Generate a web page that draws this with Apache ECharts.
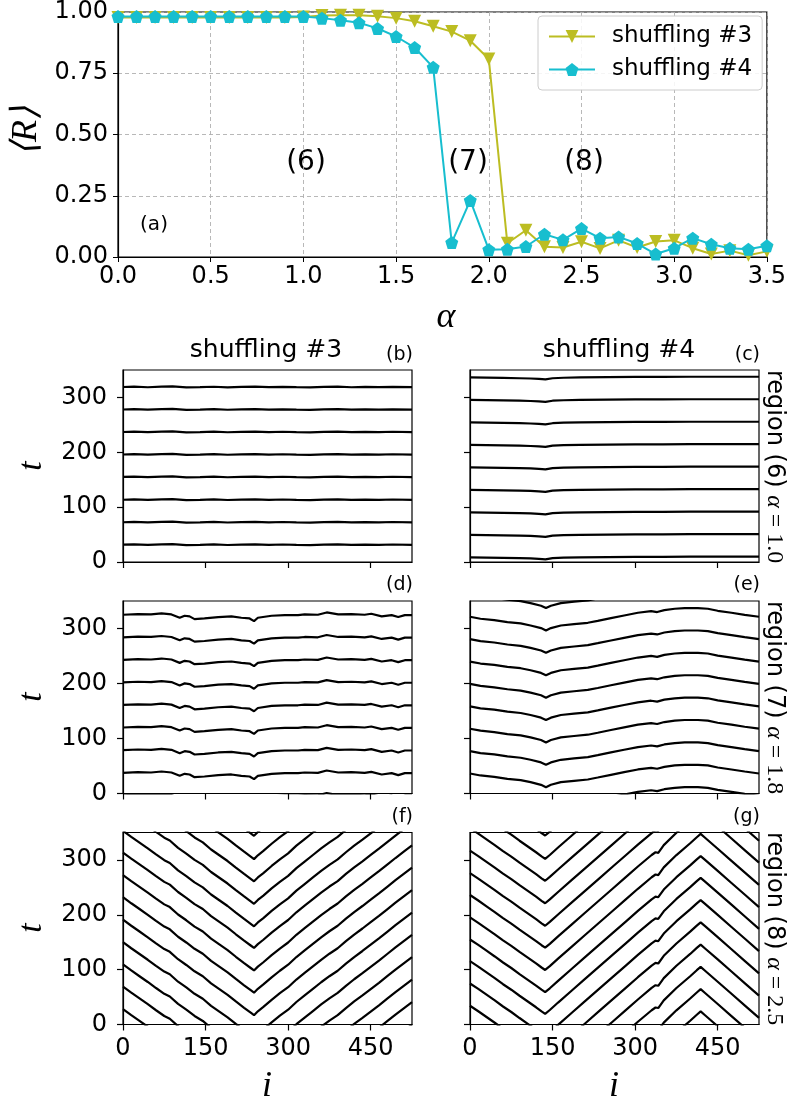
<!DOCTYPE html>
<html>
<head>
<meta charset="utf-8">
<script src="https://cdn.jsdelivr.net/npm/echarts@6/dist/echarts.min.js"></script>
<style>
html,body{margin:0;padding:0;background:#fff;}
#chart{width:789px;height:1104px;}
</style>
</head>
<body>
<div id="chart"></div>
<script>
// ---------- Panel (a): <R> vs alpha ----------
const alphas = [0.0,0.1,0.2,0.3,0.4,0.5,0.6,0.7,0.8,0.9,1.0,1.1,1.2,1.3,1.4,1.5,1.6,1.7,1.8,1.9,2.0,2.1,2.2,2.3,2.4,2.5,2.6,2.7,2.8,2.9,3.0,3.1,3.2,3.3,3.4,3.5];
const shuffling3 = [0.978,0.978,0.978,0.978,0.978,0.978,0.978,0.978,0.978,0.978,0.980,0.986,0.987,0.987,0.983,0.975,0.962,0.942,0.92,0.883,0.808,0.056,0.109,0.042,0.039,0.062,0.035,0.068,0.039,0.063,0.068,0.036,0.012,0.026,0.007,0.023];
const shuffling4 = [0.982,0.982,0.982,0.982,0.982,0.982,0.982,0.982,0.982,0.982,0.982,0.975,0.966,0.956,0.933,0.900,0.855,0.774,0.059,0.231,0.030,0.032,0.043,0.093,0.070,0.116,0.077,0.082,0.055,0.012,0.036,0.077,0.052,0.036,0.032,0.046];
const alphaTicks = [0.0,0.5,1.0,1.5,2.0,2.5,3.0,3.5];
const rTicks = [0.00,0.25,0.50,0.75,1.00];

// ---------- Space-time panels: tick labels ----------
const iTicks = [0,150,300,450];
const tTicks = [0,100,200,300];

// (b) shuffling #3, alpha=1.0 : profile + line baselines
const iB = [0,20,45,70,90,115,140,165,190,215,240,265,290,315,340,365,390,415,440,465,490,525];
const profB = [0,0.6,-0.4,0.8,1.0,-0.6,-0.2,0.5,-0.5,0.3,0.6,-0.3,0.4,-0.2,-0.6,0.3,0.8,-0.4,0.2,-0.3,0.4,-0.2];
const baseB = [31.5,72.5,113.5,155,196,237,278,319];

// (c) shuffling #4, alpha=1.0
const iC = [0,30,60,90,110,125,137,150,170,200,250,300,350,400,450,500,525];
const profC = [0,-0.5,-1,-1.5,-2,-2.8,-3.6,-1.5,-0.6,0,0.5,0.8,1,1.2,1.2,1.2,1.2];
const baseC = [8.5,49.5,90.5,131.5,172.5,213.5,254.5,295.5,336.5];

// (d) shuffling #3, alpha=1.8
const iD = [0,27,51,70,88,103,112,121,130,148,173,197,215,230,238,245,270,294,318,330,354,370,391,415,439,451,470,488,500,512,525];
const profD = [0,1.2,0.6,2.4,0.6,-5.5,-1.8,-3,-7.9,-6.7,-4.2,-3,-5.5,-6.7,-11.5,-5.5,-1.8,-0.6,-0.6,0.6,0,4.2,0.6,1.2,0,1.8,-3,-0.6,-4.2,-0.6,-0.6];
const baseD = [-3.4,37.6,78.8,120,161,202,243,284,325];

// (e) shuffling #4, alpha=1.8
const iE = [0,19,44,68,92,110,129,138,147,165,189,214,232,256,280,305,329,340,353,372,390,414,432,450,475,499,525];
const profE = [0,-3.6,-6.1,-9.7,-12.1,-15.8,-20.6,-24.9,-20.6,-15.8,-13.3,-10.9,-7.3,-2.4,2.4,7.3,10.2,8.6,12.1,14.6,15.8,15.8,14.6,10.9,7.3,3.6,0];
const baseE = [-4.3,36.4,77.1,117.8,158.5,199.2,239.9,280.6,321.3,362];

// (f) shuffling #3, alpha=2.5 (baselines = t of the V vertex)
const iF = [0,15,30,45,60,75,85,100,115,130,145,160,175,190,205,220,232,238,245,255,270,285,300,315,330,345,360,375,390,405,420,435,450,465,480,495,510,525];
const profF = [174,163,152.5,142,131,120.5,115.5,102,91.5,80,71,58,47.5,37,25,13.5,4.5,0,7,15,28,40,51,65,77,89,101,112,122,135,147,158,169.5,181,193,205,216.5,228];
const baseF = [-228,-187,-146,-105,-64.5,-24,17,58,98.5,139.5,179,220,261,301.5,344];

// (g) shuffling #4, alpha=2.5
const iG = [0,15,30,45,60,75,90,105,120,130,136.5,145,160,185,209,235,260,283,305,330,337,342,352,375,400,412,419,427,450,475,500,525];
const profG = [96,86,75.5,65,54,44,33,22.5,12,4.5,0,7,20.6,42.6,63.7,86.5,108.4,128.6,148,169,174,173,187,209.5,231,242,248,241,221,199,177,155];
const baseG = [-224.2,-183.6,-143,-102.4,-61.8,-21.2,19.4,59,99.4,140,180,221,262,302,344.5];

// ---------- build ----------
const chart = echarts.init(document.getElementById('chart'), null, {renderer:'canvas'});
const SANS = 'DejaVu Sans';
const SERIF = 'Liberation Serif';

const grids = [
  {left:118, top:9, width:653, height:248},
  {left:123, top:370, width:289, height:192},
  {left:470, top:370, width:289, height:192},
  {left:123, top:601, width:289, height:192.5},
  {left:470, top:601, width:289, height:192.5},
  {left:123, top:832.5, width:289, height:192},
  {left:470, top:832.5, width:289, height:192}
].map(g => Object.assign({show:true, borderColor:'#000', borderWidth:1.2, backgroundColor:'transparent', containLabel:false}, g));

const xAxes = [{
  gridIndex:0, type:'value', min:0, max:3.5, interval:0.5,
  axisLine:{show:true, lineStyle:{color:'#000', width:1.2}},
  axisTick:{show:true, inside:false, length:5, lineStyle:{color:'#000'}},
  axisLabel:{show:true, margin:8, color:'#000', fontFamily:SANS, fontSize:24, formatter:v=>v.toFixed(1)},
  splitLine:{show:true, lineStyle:{color:'#b0b0b0', type:[4,3], width:0.9}}
}];
const yAxes = [{
  gridIndex:0, type:'value', min:0, max:1, interval:0.25,
  axisLine:{show:true, lineStyle:{color:'#000', width:1.2}},
  axisTick:{show:true, inside:false, length:5, lineStyle:{color:'#000'}},
  axisLabel:{show:true, margin:10, color:'#000', fontFamily:SANS, fontSize:24, formatter:v=>v.toFixed(2)},
  splitLine:{show:true, lineStyle:{color:'#b0b0b0', type:[4,3], width:0.9}}
}];
for (let g=1; g<=6; g++){
  const bottomRow = g>=5, leftCol = (g%2===1);
  xAxes.push({
    gridIndex:g, type:'value', min:0, max:525,
    axisLine:{show:true, lineStyle:{color:'#000', width:1.2}},
    axisTick:{show:true, inside:false, length:6, customValues:iTicks, lineStyle:{color:'#000', width:1.2}},
    axisLabel:{show:bottomRow, customValues:iTicks, margin:12, color:'#000', fontFamily:SANS, fontSize:24},
    splitLine:{show:false}
  });
  yAxes.push({
    gridIndex:g, type:'value', min:0, max:350,
    axisLine:{show:true, lineStyle:{color:'#000', width:1.2}},
    axisTick:{show:true, inside:false, length:6, customValues:tTicks, lineStyle:{color:'#000', width:1.2}},
    axisLabel:{show:leftCol, customValues:tTicks, margin:16, color:'#000', fontFamily:SANS, fontSize:24},
    splitLine:{show:false}
  });
}

const series = [
  {name:'shuffling #3', type:'line', xAxisIndex:0, yAxisIndex:0,
   data: alphas.map((a,k)=>[a, shuffling3[k]]),
   symbol:'triangle', symbolRotate:180, symbolSize:13, showSymbol:true,
   itemStyle:{color:'#bcbd22'}, lineStyle:{color:'#bcbd22', width:2}, z:3},
  {name:'shuffling #4', type:'line', xAxisIndex:0, yAxisIndex:0,
   data: alphas.map((a,k)=>[a, shuffling4[k]]),
   symbol:'path://M0,-1 L0.951,-0.309 L0.588,0.809 L-0.588,0.809 L-0.951,-0.309 Z', symbolSize:13, showSymbol:true,
   itemStyle:{color:'#17becf'}, lineStyle:{color:'#17becf', width:2}, z:4}
];
function panel(g, xs, prof, bases){
  bases.forEach(b=>{
    series.push({type:'line', xAxisIndex:g, yAxisIndex:g, silent:true, clip:true,
      data: xs.map((x,k)=>[x, b+prof[k]]),
      symbol:'none', showSymbol:false, lineStyle:{color:'#000', width:2.2}});
  });
}
panel(1, iB, profB, baseB);
panel(2, iC, profC, baseC);
panel(3, iD, profD, baseD);
panel(4, iE, profE, baseE);
panel(5, iF, profF, baseF);
panel(6, iG, profG, baseG);

function txt(x, y, text, font, opts){
  return Object.assign({type:'text', x:x, y:y, silent:true,
    style:Object.assign({text:text, font:font, fill:'#000', align:'center', textAlign:'center', verticalAlign:'middle', textVerticalAlign:'middle'}, (opts&&opts.style)||{})},
    (opts&&opts.props)||{});
}
const graphics = [
  txt(27, 131, '⟨R⟩', 'italic 36px '+SERIF, {props:{rotation:Math.PI/2}}),
  txt(446, 318, 'α', 'italic 36px '+SERIF),
  txt(306, 163, '(6)', '28px '+SANS),
  txt(468, 163, '(7)', '28px '+SANS),
  txt(584, 163, '(8)', '28px '+SANS),
  txt(154, 225, '(a)', '20px '+SANS),
  txt(266, 350, 'shuffling #3', '25px '+SANS),
  txt(619, 350, 'shuffling #4', '25px '+SANS),
  txt(413, 355, '(b)', '19px '+SANS, {style:{align:'right', textAlign:'right'}}),
  txt(760, 355, '(c)', '19px '+SANS, {style:{align:'right', textAlign:'right'}}),
  txt(413, 585, '(d)', '19px '+SANS, {style:{align:'right', textAlign:'right'}}),
  txt(760, 585, '(e)', '19px '+SANS, {style:{align:'right', textAlign:'right'}}),
  txt(413, 817, '(f)', '19px '+SANS, {style:{align:'right', textAlign:'right'}}),
  txt(760, 817, '(g)', '19px '+SANS, {style:{align:'right', textAlign:'right'}}),
  txt(32, 466, 't', 'italic 34px '+SERIF, {props:{rotation:Math.PI/2}}),
  txt(32, 697, 't', 'italic 34px '+SERIF, {props:{rotation:Math.PI/2}}),
  txt(32, 928, 't', 'italic 34px '+SERIF, {props:{rotation:Math.PI/2}}),
  txt(267, 1087, 'i', 'italic 36px '+SERIF),
  txt(614, 1087, 'i', 'italic 36px '+SERIF)
];
[['(6)','1.0',370],['(7)','1.8',601],['(8)','2.5',832]].forEach(r=>{
  graphics.push({type:'text', x:774, y:r[2], rotation:-Math.PI/2, silent:true,
    style:{text:'{a|region '+r[0]+' }{b|α}{c| = '+r[1]+'}', align:'left', textAlign:'left', verticalAlign:'middle', textVerticalAlign:'middle', fill:'#000',
      rich:{a:{fontFamily:SANS, fontSize:24, fill:'#000', color:'#000'}, b:{fontFamily:SERIF, fontStyle:'italic', fontSize:24, color:'#000'}, c:{fontFamily:SERIF, fontSize:24, color:'#000'}}}});
});

chart.setOption({
  animation:false,
  backgroundColor:'#fff',
  grid: grids,
  xAxis: xAxes,
  yAxis: yAxes,
  legend:{data:['shuffling #3','shuffling #4'], orient:'vertical', left:538, top:16,
    padding:[9,10,9,10], itemGap:10, itemWidth:46, itemHeight:16,
    textStyle:{fontFamily:SANS, fontSize:23, color:'#000', padding:[0,0,0,12]},
    backgroundColor:'rgba(255,255,255,0.85)', borderColor:'#cccccc', borderWidth:1, borderRadius:4},
  series: series,
  graphic: graphics
});
</script>
</body>
</html>
